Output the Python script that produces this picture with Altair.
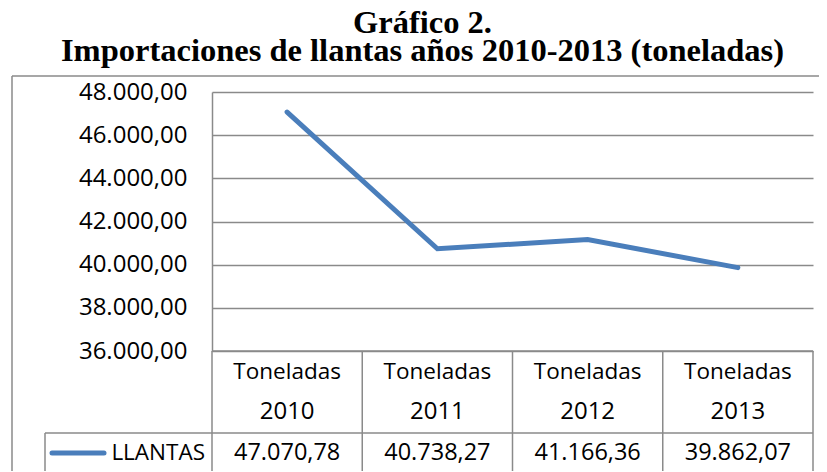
import altair as alt
import pandas as pd

# ---- data ----
years = ["2010", "2011", "2012", "2013"]
row_label = ["Toneladas", "Toneladas", "Toneladas", "Toneladas"]
values = [47070.78, 40738.27, 41166.36, 39862.07]
series_name = "LLANTAS"
y_ticks = [36000, 38000, 40000, 42000, 44000, 46000, 48000]


def es_fmt(v):
    s = f"{v:,.2f}"
    return s.replace(",", "_").replace(".", ",").replace("_", ".")


df = pd.DataFrame({
    "cat": years,
    "top": row_label,
    "value": values,
    "label": [es_fmt(v) for v in values],
})
one = pd.DataFrame({"a": [0]})

BLUE = "#4A7EBB"
GRAY = "#8A8A8A"
FONT = "Open Sans"
FS = 22.5
FSN = 23.5

W, H = 601, 259
BOTTOM = 420

X = alt.X("cat:N", sort=years, bandPosition=0.5,
          scale=alt.Scale(type="band", paddingInner=0, paddingOuter=0), axis=None)
X0 = alt.X("cat:N", sort=years, bandPosition=0,
           scale=alt.Scale(type="band", paddingInner=0, paddingOuter=0), axis=None)

label_expr = ("replace(replace(replace(format(datum.value, ',.2f'), ',', '_'), '.', ','), '_', '.')")

Y = alt.Y("value:Q",
          scale=alt.Scale(domain=[36000, 48000], nice=False, zero=False),
          axis=alt.Axis(values=y_ticks, labelExpr=label_expr, title=None,
                        domain=True, domainColor=GRAY, domainWidth=1.5,
                        ticks=False, grid=True, gridColor=GRAY, gridWidth=1.5,
                        labelPadding=25, labelFont=FONT, labelFontSize=24,
                        labelColor="black"))

base = alt.Chart(df)

line = base.mark_line(color=BLUE, strokeWidth=5, strokeCap="round").encode(x=X, y=Y)

rule_style = dict(color=GRAY, strokeWidth=1.5)

# table column lines
col_lines = base.mark_rule(**rule_style).encode(
    x=X0, y=alt.value(H), y2=alt.value(BOTTOM))
right_line = alt.Chart(one).mark_rule(**rule_style).encode(
    x=alt.value(W), y=alt.value(H), y2=alt.value(BOTTOM))
table_top = alt.Chart(one).mark_rule(**rule_style).encode(
    x=alt.value(0), x2=alt.value(W), y=alt.value(H))
row_div = alt.Chart(one).mark_rule(**rule_style).encode(
    x=alt.value(-167), x2=alt.value(W), y=alt.value(341))
legend_left = alt.Chart(one).mark_rule(**rule_style).encode(
    x=alt.value(-167), y=alt.value(341), y2=alt.value(BOTTOM))

# outer frame
frame_left = alt.Chart(one).mark_rule(**rule_style).encode(
    x=alt.value(-200), y=alt.value(-16), y2=alt.value(BOTTOM))
frame_top = alt.Chart(one).mark_rule(**rule_style).encode(
    x=alt.value(-200), x2=alt.value(620), y=alt.value(-16))

txt = dict(font=FONT, color="black", baseline="middle")
cat_top = base.mark_text(fontSize=FS, **txt).encode(x=X, y=alt.value(280), text="top:N")
cat_year = base.mark_text(fontSize=24, **txt).encode(x=X, y=alt.value(320), text="cat:N")
val_text = base.mark_text(fontSize=FSN, **txt).encode(x=X, y=alt.value(361), text="label:N")

legend_line = alt.Chart(one).mark_rule(color=BLUE, strokeWidth=5, strokeCap="round").encode(
    x=alt.value(-160), x2=alt.value(-108), y=alt.value(361))
legend_text = alt.Chart(pd.DataFrame({"s": [series_name]})).mark_text(
    align="right", fontSize=FS, **txt).encode(x=alt.value(-7), y=alt.value(361), text="s:N")

chart = alt.layer(
    frame_left, frame_top,
    col_lines, right_line, table_top, row_div, legend_left,
    line, cat_top, cat_year, val_text, legend_line, legend_text,
).resolve_scale(x="shared").properties(
    width=W, height=H,
    autosize=alt.AutoSizeParams(type="none"),
    padding={"left": 204, "top": 84, "right": 6, "bottom": 120},
    title=alt.TitleParams(
        text=["Gráfico 2.", "Importaciones de llantas años 2010-2013 (toneladas)"],
        font="Liberation Serif", fontSize=32.5, fontWeight="bold", color="black",
        anchor="middle", frame="group", dx=-90, lineHeight=28, offset=8,
    ),
).configure_view(strokeWidth=0)

chart.save("out.html", embed_options={"renderer": "svg", "actions": False})
